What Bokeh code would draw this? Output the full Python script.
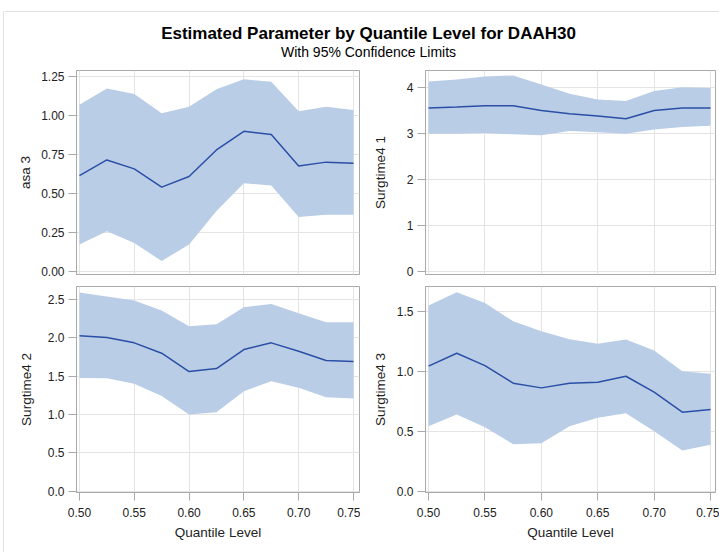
from bokeh.plotting import figure
from bokeh.models import Range1d, FixedTicker, Grid, Label, PrintfTickFormatter, Span, Spacer
from bokeh.layouts import column, row
from bokeh.embed import file_html
from bokeh.resources import INLINE

# ---------------- data ----------------
quantile = [0.500, 0.525, 0.550, 0.575, 0.600, 0.625, 0.650, 0.675, 0.700, 0.725, 0.750]

asa3_est = [0.614, 0.714, 0.657, 0.540, 0.608, 0.778, 0.897, 0.876, 0.676, 0.700, 0.693]
asa3_upper = [1.067, 1.171, 1.135, 1.012, 1.054, 1.165, 1.229, 1.214, 1.025, 1.054, 1.033]
asa3_lower = [0.174, 0.259, 0.183, 0.068, 0.174, 0.387, 0.565, 0.551, 0.349, 0.364, 0.364]

st41_est = [3.558, 3.580, 3.610, 3.610, 3.507, 3.435, 3.384, 3.326, 3.507, 3.558, 3.558]
st41_upper = [4.138, 4.181, 4.246, 4.268, 4.070, 3.870, 3.746, 3.710, 3.928, 4.014, 3.993]
st41_lower = [3.000, 3.000, 3.014, 2.986, 2.964, 3.058, 3.030, 3.000, 3.094, 3.145, 3.174]

st42_est = [2.026, 2.004, 1.935, 1.800, 1.561, 1.600, 1.848, 1.935, 1.826, 1.704, 1.691]
st42_upper = [2.591, 2.539, 2.487, 2.357, 2.152, 2.178, 2.400, 2.443, 2.322, 2.204, 2.204]
st42_lower = [1.478, 1.474, 1.400, 1.243, 1.000, 1.030, 1.304, 1.435, 1.348, 1.226, 1.209]

st43_est = [1.042, 1.150, 1.047, 0.900, 0.861, 0.900, 0.908, 0.958, 0.825, 0.658, 0.681]
st43_upper = [1.547, 1.658, 1.569, 1.417, 1.333, 1.267, 1.228, 1.264, 1.172, 1.000, 0.978]
st43_lower = [0.542, 0.639, 0.533, 0.392, 0.400, 0.542, 0.611, 0.650, 0.500, 0.339, 0.386]

x_ticks = [0.50, 0.55, 0.60, 0.65, 0.70, 0.75]
asa3_ticks = [0.0, 0.25, 0.5, 0.75, 1.0, 1.25]
st41_ticks = [0, 1, 2, 3, 4]
st42_ticks = [0.0, 0.5, 1.0, 1.5, 2.0, 2.5]
st43_ticks = [0.0, 0.5, 1.0, 1.5]

title_text = "Estimated Parameter by Quantile Level for DAAH30"
subtitle_text = "With 95% Confidence Limits"
x_label = "Quantile Level"

# ---------------- style ----------------
FONT = "Liberation Sans"
BAND = "#b9cde6"
LINE = "#2b4fa6"
GRID = "#e4e4e4"
FRAME = "#a9a9a9"
TEXT = "#222222"
BORDER = "#e2e2e2"


def panel(est, lo, hi, yticks, yfmt, ylabel, yr, xr, left_col, bottom_row, label_standoff):
    width = 356 if left_col else 359
    height = 264 if bottom_row else 220
    p = figure(width=width, height=height, output_backend="svg", toolbar_location=None,
               x_range=Range1d(*xr), y_range=Range1d(*yr),
               x_axis_location="below" if bottom_row else None,
               tools="")
    p.min_border_left = 72 if left_col else 65
    p.min_border_right = 1 if left_col else 4
    p.min_border_top = 6 if bottom_row else 10
    p.min_border_bottom = 52 if bottom_row else 6
    p.background_fill_color = "white"
    p.border_fill_color = "white"
    p.outline_line_color = FRAME
    p.outline_line_width = 1

    # grids
    for g in list(p.xgrid) + list(p.ygrid):
        g.visible = False
    p.add_layout(Grid(dimension=0, ticker=FixedTicker(ticks=x_ticks),
                      grid_line_color=GRID, grid_line_width=1))
    p.add_layout(Grid(dimension=1, ticker=FixedTicker(ticks=yticks),
                      grid_line_color=GRID, grid_line_width=1))

    p.varea(x=quantile, y1=lo, y2=hi, fill_color=BAND, fill_alpha=1.0)
    p.line(x=quantile, y=est, line_color=LINE, line_width=1.5)

    ya = p.yaxis[0]
    ya.ticker = FixedTicker(ticks=yticks)
    ya.formatter = PrintfTickFormatter(format=yfmt)
    ya.axis_label = ylabel
    ya.axis_label_text_font = FONT
    ya.axis_label_text_font_size = "13.5px"
    ya.axis_label_text_font_style = "normal"
    ya.axis_label_text_color = TEXT
    ya.axis_label_standoff = label_standoff
    ya.major_label_text_font = FONT
    ya.major_label_text_font_size = "12px"
    ya.major_label_text_color = TEXT
    ya.major_label_standoff = 4
    ya.major_tick_out = 8
    ya.major_tick_in = 0
    ya.minor_tick_out = 0
    ya.minor_tick_in = 0
    ya.major_tick_line_color = FRAME
    ya.axis_line_color = FRAME

    if bottom_row:
        xa = p.xaxis[0]
        xa.ticker = FixedTicker(ticks=x_ticks)
        xa.formatter = PrintfTickFormatter(format="%.2f")
        xa.axis_label = x_label
        xa.axis_label_text_font = FONT
        xa.axis_label_text_font_size = "13.5px"
        xa.axis_label_text_font_style = "normal"
        xa.axis_label_text_color = TEXT
        xa.axis_label_standoff = 5
        xa.major_label_text_font = FONT
        xa.major_label_text_font_size = "12px"
        xa.major_label_text_color = TEXT
        xa.major_label_standoff = 7
        xa.major_tick_out = 8
        xa.major_tick_in = 0
        xa.minor_tick_out = 0
        xa.minor_tick_in = 0
        xa.major_tick_line_color = FRAME
        xa.axis_line_color = FRAME
    return p


xr_left = (0.4973, 0.7555)
xr_right = (0.4973, 0.7544)

tl = panel(asa3_est, asa3_lower, asa3_upper, asa3_ticks, "%.2f", "asa 3",
           (-0.018, 1.2855), xr_left, True, False, 5)
tr = panel(st41_est, st41_lower, st41_upper, st41_ticks, "%d", "Surgtime4 1",
           (-0.065, 4.376), xr_right, False, False, 16)
bl = panel(st42_est, st42_lower, st42_upper, st42_ticks, "%.1f", "Surgtime4 2",
           (-0.017, 2.67), xr_left, True, True, 11)
br = panel(st43_est, st43_lower, st43_upper, st43_ticks, "%.1f", "Surgtime4 3",
           (-0.011, 1.706), xr_right, False, True, 6)

# header with titles (starts at page x = 4)
header = figure(width=715, height=60, output_backend="svg", toolbar_location=None,
                x_range=Range1d(4, 719), y_range=Range1d(60, 0),
                x_axis_location=None, y_axis_location=None, tools="")
header.min_border_left = 0
header.min_border_right = 0
header.min_border_top = 0
header.min_border_bottom = 0
header.outline_line_color = None
header.xgrid.visible = False
header.ygrid.visible = False
header.add_layout(Span(location=11, dimension="width", line_color=BORDER, line_width=1))
header.add_layout(Label(x=368, y=33, text=title_text, text_font=FONT, text_font_size="17px",
                        text_font_style="bold", text_align="center", text_baseline="middle",
                        text_color="#000000"))
header.add_layout(Label(x=368, y=51.5, text=subtitle_text, text_font=FONT, text_font_size="14px",
                        text_align="center", text_baseline="middle", text_color="#000000"))

gap = Spacer(width=3, height=552)
vline = Spacer(width=1, height=541, margin=(11, 0, 0, 0),
               styles={"background-color": BORDER})

layout = row(gap, vline, column(header, row(tl, tr), row(bl, br)))

open("out.html", "w").write(file_html(layout, INLINE))
